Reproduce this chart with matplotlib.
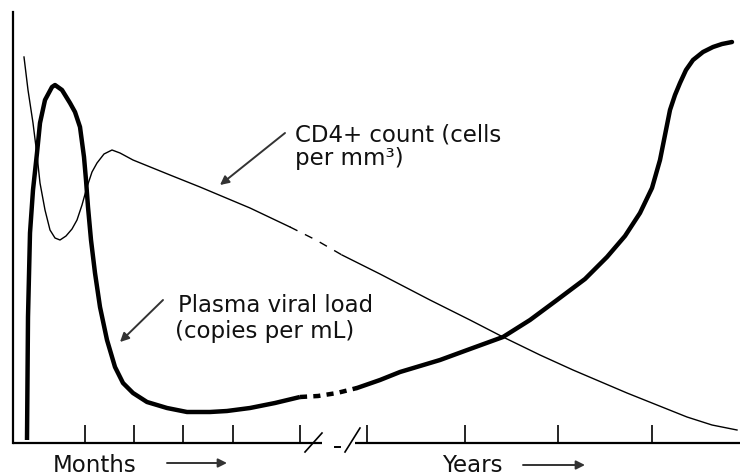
import matplotlib

matplotlib.use("Agg")
import matplotlib.pyplot as plt

# Relative units: x = time along the axis, y = level above the axis
# Plasma viral load (thick curve)
viral_x = [14, 15, 17, 20, 24, 27, 32, 39, 42, 49, 57, 62, 67, 71, 73, 75, 78, 82,
           87, 94, 102, 110, 120, 134, 154, 174, 197, 214, 237, 262, 287]
viral_y = [3, 126, 210, 253, 290, 320, 343, 356, 358, 353, 340, 331, 316, 286, 263,
           236, 203, 170, 136, 103, 76, 60, 50, 41, 35, 31, 31, 32, 35, 40, 46]
viral_gap_x = [287, 305, 324, 344]
viral_gap_y = [46, 47, 50, 55]
viral_late_x = [344, 367, 387, 427, 457, 490, 517, 544, 572, 594, 612, 627, 639, 647,
                652, 657, 662, 667, 673, 680, 690, 700, 709, 719]
viral_late_y = [55, 63, 71, 83, 94, 106, 123, 143, 164, 186, 207, 230, 255, 283, 308,
                333, 348, 360, 373, 383, 391, 396, 399, 401]

# CD4+ count (thin curve)
cd4_x = [11, 15, 20, 24, 27, 32, 37, 42, 47, 53, 59, 64, 69, 74, 79, 84, 91, 99, 107,
         120, 157, 187, 237, 277]
cd4_y = [386, 353, 320, 288, 260, 233, 213, 205, 203, 207, 214, 223, 238, 256, 271,
         280, 289, 293, 290, 283, 268, 256, 235, 216]
cd4_gap_x = [277, 303, 329]
cd4_gap_y = [216, 203, 188]
cd4_late_x = [329, 367, 417, 457, 490, 527, 560, 614, 674, 699, 724]
cd4_late_y = [188, 169, 143, 123, 106, 88, 73, 50, 26, 18, 13]

tick_x = [72, 121, 170, 220, 287, 354, 452, 545, 639]

fig = plt.figure(figsize=(7.4, 4.76), dpi=100)
ax = fig.add_axes([13 / 740, 33 / 476, 727 / 740, 431 / 476])
ax.set_xlim(0, 727)
ax.set_ylim(0, 431)

ax.plot(viral_x, viral_y, color="black", lw=3.2, solid_capstyle="butt")
ax.plot(viral_gap_x, viral_gap_y, color="black", lw=3.2, linestyle=(0, (1.6, 1.4)))
ax.plot(viral_late_x, viral_late_y, color="black", lw=3.2, solid_capstyle="round")

ax.plot(cd4_x, cd4_y, color="black", lw=1.0)
ax.plot(cd4_gap_x, cd4_gap_y, color="black", lw=1.0, linestyle=(0, (6, 6)))
ax.plot(cd4_late_x, cd4_late_y, color="black", lw=1.0)

# axes: left spine kept, bottom drawn by hand with a break
for side in ["top", "right", "bottom"]:
    ax.spines[side].set_visible(False)
ax.spines["left"].set_linewidth(1.6)
ax.set_yticks([])
ax.set_xticks(tick_x)
ax.set_xticklabels([])
ax.tick_params(axis="x", direction="in", length=13, width=1.2, color="black")

ax.plot([0, 309], [0, 0], color="black", lw=1.6, clip_on=False, solid_capstyle="butt")
ax.plot([342, 727], [0, 0], color="black", lw=1.6, clip_on=False, solid_capstyle="butt")
ax.plot([322, 327], [-4, -4], color="black", lw=1.4, clip_on=False)
ax.plot([292, 309], [-9, 10], color="black", lw=1.2, clip_on=False)
ax.plot([332, 347], [-9, 15], color="black", lw=1.2, clip_on=False)

txt = dict(fontsize=16.5, family="DejaVu Sans", va="baseline", color="#111111")
ax.text(282, 301, "CD4+ count (cells", **txt)
ax.text(282, 278, "per mm\u00b3)", **txt)
ax.text(165, 131, "Plasma viral load", **txt)
ax.text(162, 105, "(copies per mL)", **txt)

arrow = dict(arrowstyle="-|>", color="#333333", lw=1.4, mutation_scale=13,
             shrinkA=0, shrinkB=0)
ax.annotate("", xy=(207, 258), xytext=(272, 310), arrowprops=arrow)
ax.annotate("", xy=(107, 101), xytext=(150, 143), arrowprops=arrow)

ax.text(40, -29, "Months", clip_on=False, **txt)
ax.text(429, -29, "Years", clip_on=False, **txt)
ax.annotate("", xy=(214, -20), xytext=(154, -20), arrowprops=arrow,
            annotation_clip=False)
ax.annotate("", xy=(572, -22), xytext=(510, -22), arrowprops=arrow,
            annotation_clip=False)

fig.savefig("out.png", dpi=100, facecolor="white")
